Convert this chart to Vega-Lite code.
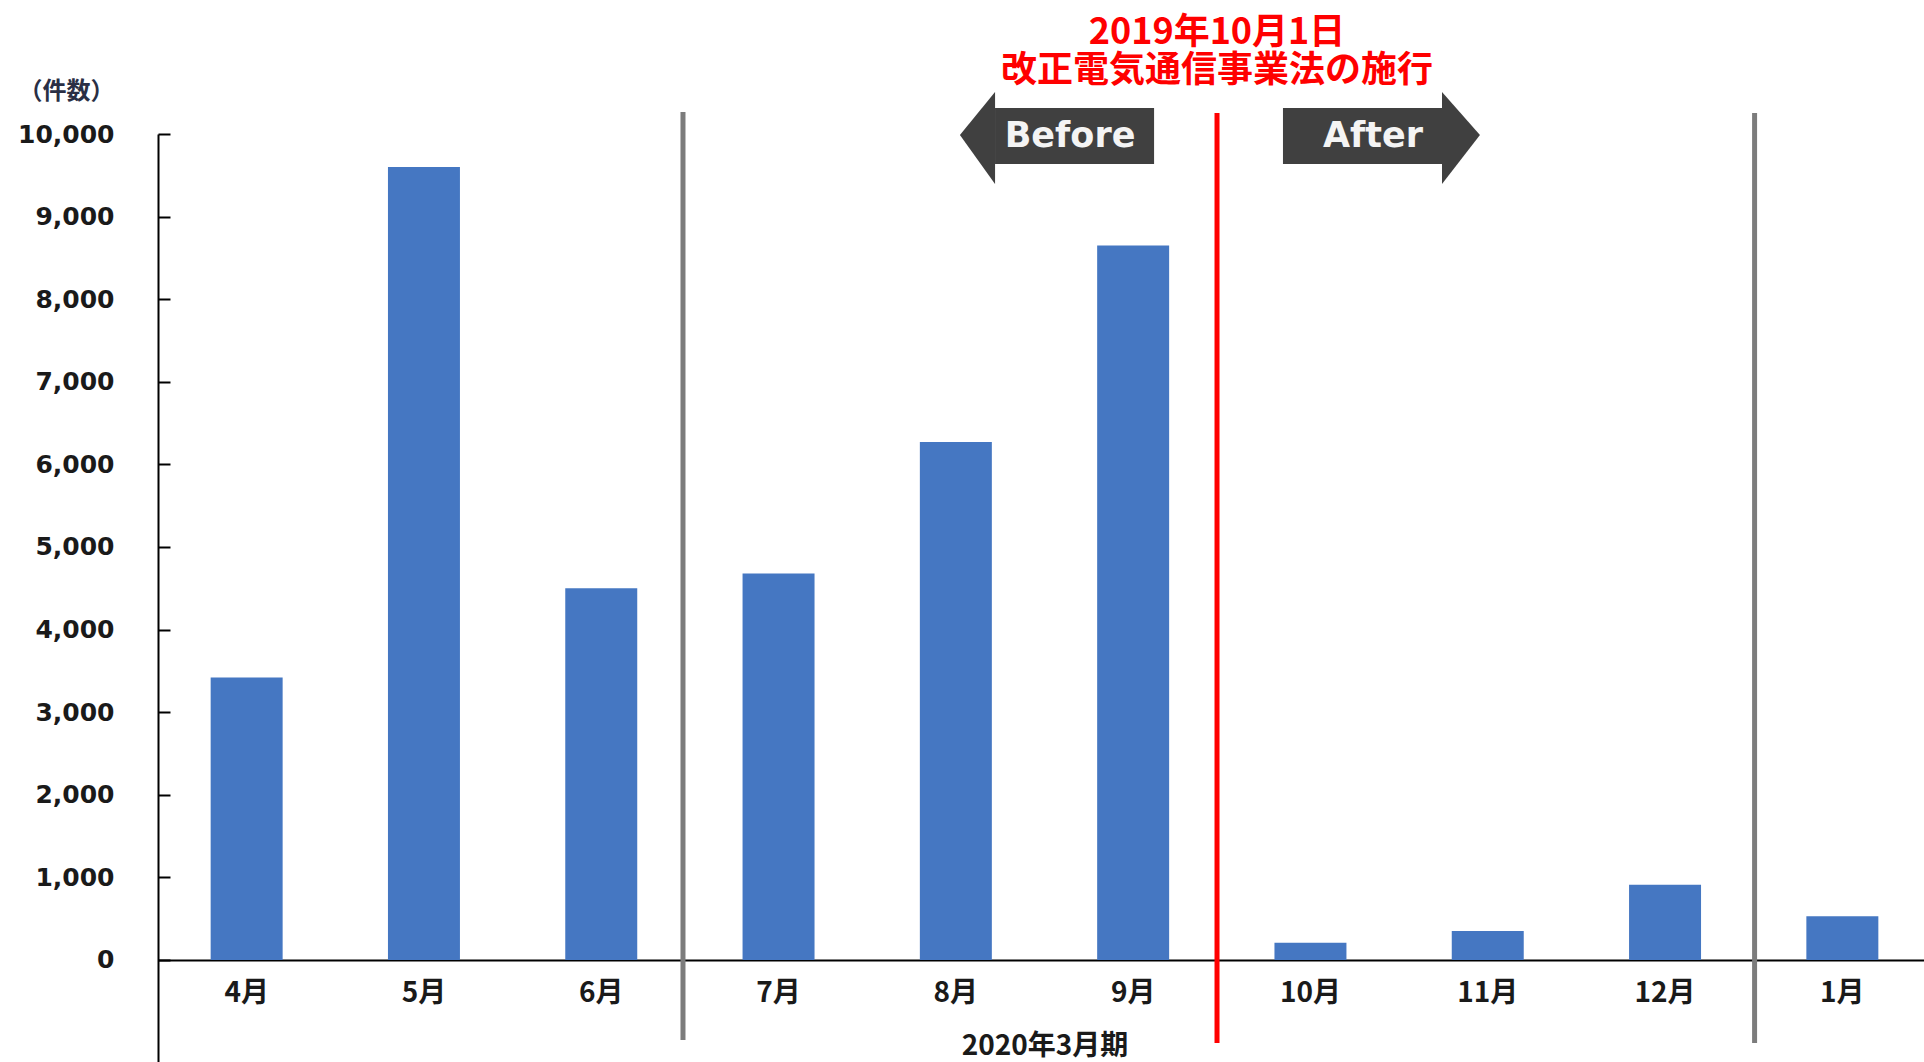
{
  "$schema": "https://vega.github.io/schema/vega-lite/v6.json",
  "width": 1766,
  "height": 928,
  "autosize": "none",
  "padding": {"left": 158, "top": 134, "right": 0, "bottom": 0},
  "background": "white",
  "config": {"view": {"stroke": null}},
  "datasets": {
    "counts": [
      {"month": "4月", "count": 3420},
      {"month": "5月", "count": 9600},
      {"month": "6月", "count": 4500},
      {"month": "7月", "count": 4680},
      {"month": "8月", "count": 6270},
      {"month": "9月", "count": 8650},
      {"month": "10月", "count": 210},
      {"month": "11月", "count": 350},
      {"month": "12月", "count": 910},
      {"month": "1月", "count": 530}
    ],
    "dividers": [
      {"kind": "四半期", "pos": 2.961, "top": 10266, "bottom": -969},
      {"kind": "施行日", "pos": 5.973, "top": 10254, "bottom": -1005},
      {"kind": "四半期", "pos": 9.005, "top": 10254, "bottom": -1005}
    ],
    "arrow_bodies": [
      {"label": "Before", "from": 4.721, "to": 5.618, "lo": 9637, "hi": 10315, "text_at": 5.144, "text_base": 9843},
      {"label": "After", "from": 6.345, "to": 7.242, "lo": 9637, "hi": 10315, "text_at": 6.853, "text_base": 9843}
    ],
    "arrow_heads": [
      {"label": "Before", "at": 4.523, "lo": 9988, "hi": 9988},
      {"label": "Before", "at": 4.721, "lo": 9395, "hi": 10508},
      {"label": "After", "at": 7.242, "lo": 9395, "hi": 10508},
      {"label": "After", "at": 7.456, "lo": 9988, "hi": 9988}
    ],
    "notes": [
      {"lines": ["2019年10月1日", "改正電気通信事業法の施行"], "at": 5.973, "base": 11090}
    ]
  },
  "layer": [
    {
      "data": {"name": "counts"},
      "mark": {"type": "bar", "color": "#4577C2", "width": {"band": 0.406}, "clip": false},
      "encoding": {
        "x": {
          "field": "month",
          "type": "nominal",
          "sort": null,
          "scale": {"range": [0, 1773], "paddingInner": 0, "paddingOuter": 0},
          "axis": {
            "orient": "bottom",
            "offset": -102,
            "domainColor": "#000000",
            "domainWidth": 2,
            "ticks": false,
            "grid": false,
            "labelAngle": 0,
            "labelPadding": 19,
            "labelFont": "Noto Sans CJK JP",
            "labelFontWeight": "bold",
            "labelFontSize": 28,
            "labelColor": "#1a1a1a",
            "title": "2020年3月期",
            "titleFont": "Noto Sans CJK JP",
            "titleFontWeight": "bold",
            "titleFontSize": 28,
            "titleColor": "#1a1a1a",
            "titlePadding": 25
          }
        },
        "y": {
          "field": "count",
          "type": "quantitative",
          "scale": {"domain": [-1235, 10000], "nice": false, "zero": false},
          "axis": {
            "orient": "left",
            "values": [0, 1000, 2000, 3000, 4000, 5000, 6000, 7000, 8000, 9000, 10000],
            "format": ",.0f",
            "grid": false,
            "domainColor": "#000000",
            "domainWidth": 2,
            "tickColor": "#000000",
            "tickWidth": 2,
            "tickSize": -12,
            "labelPadding": 56,
            "labelFont": "DejaVu Sans",
            "labelFontWeight": "bold",
            "labelFontSize": 25,
            "labelColor": "#1a1a1a",
            "title": "（件数）",
            "titleAngle": 0,
            "titleAlign": "left",
            "titleBaseline": "middle",
            "titleX": -140,
            "titleY": -43,
            "titleFont": "Noto Sans CJK JP",
            "titleFontWeight": "bold",
            "titleFontSize": 24,
            "titleColor": "#2a2f45"
          }
        },
        "y2": {"datum": 0}
      }
    },
    {
      "layer": [
        {
          "data": {"name": "dividers"},
          "mark": {"type": "rule", "strokeWidth": 5, "clip": false},
          "encoding": {
            "x": {"field": "pos", "type": "quantitative", "scale": {"domain": [0, 10], "range": [0, 1773], "nice": false, "zero": false}, "axis": null},
            "y": {"field": "top", "type": "quantitative", "axis": null},
            "y2": {"field": "bottom"},
            "color": {"field": "kind", "type": "nominal", "scale": {"domain": ["四半期", "施行日"], "range": ["#7c7c7c", "#ff0000"]}, "legend": null}
          }
        },
        {
          "data": {"name": "arrow_bodies"},
          "mark": {"type": "rect", "color": "#404040", "clip": false},
          "encoding": {
            "x": {"field": "from", "type": "quantitative", "scale": {"domain": [0, 10], "range": [0, 1773], "nice": false, "zero": false}, "axis": null},
            "x2": {"field": "to"},
            "y": {"field": "lo", "type": "quantitative", "axis": null},
            "y2": {"field": "hi"}
          }
        },
        {
          "data": {"name": "arrow_heads"},
          "mark": {"type": "area", "orient": "vertical", "color": "#404040", "opacity": 1, "clip": false},
          "encoding": {
            "x": {"field": "at", "type": "quantitative", "scale": {"domain": [0, 10], "range": [0, 1773], "nice": false, "zero": false}, "axis": null},
            "y": {"field": "lo", "type": "quantitative", "axis": null},
            "y2": {"field": "hi"},
            "detail": {"field": "label", "type": "nominal"}
          }
        },
        {
          "data": {"name": "arrow_bodies"},
          "mark": {"type": "text", "font": "DejaVu Sans", "fontWeight": "bold", "fontSize": 35, "color": "#f4f4f4", "align": "center", "baseline": "alphabetic", "clip": false},
          "encoding": {
            "x": {"field": "text_at", "type": "quantitative", "scale": {"domain": [0, 10], "range": [0, 1773], "nice": false, "zero": false}, "axis": null},
            "y": {"field": "text_base", "type": "quantitative", "axis": null},
            "text": {"field": "label"}
          }
        },
        {
          "data": {"name": "notes"},
          "mark": {"type": "text", "font": "Noto Sans CJK JP", "fontWeight": "bold", "fontSize": 36, "lineHeight": 38, "color": "#ff0000", "align": "center", "baseline": "alphabetic", "clip": false},
          "encoding": {
            "x": {"field": "at", "type": "quantitative", "scale": {"domain": [0, 10], "range": [0, 1773], "nice": false, "zero": false}, "axis": null},
            "y": {"field": "base", "type": "quantitative", "axis": null},
            "text": {"field": "lines"}
          }
        }
      ]
    }
  ],
  "resolve": {"scale": {"x": "independent"}, "axis": {"y": "independent"}}
}
